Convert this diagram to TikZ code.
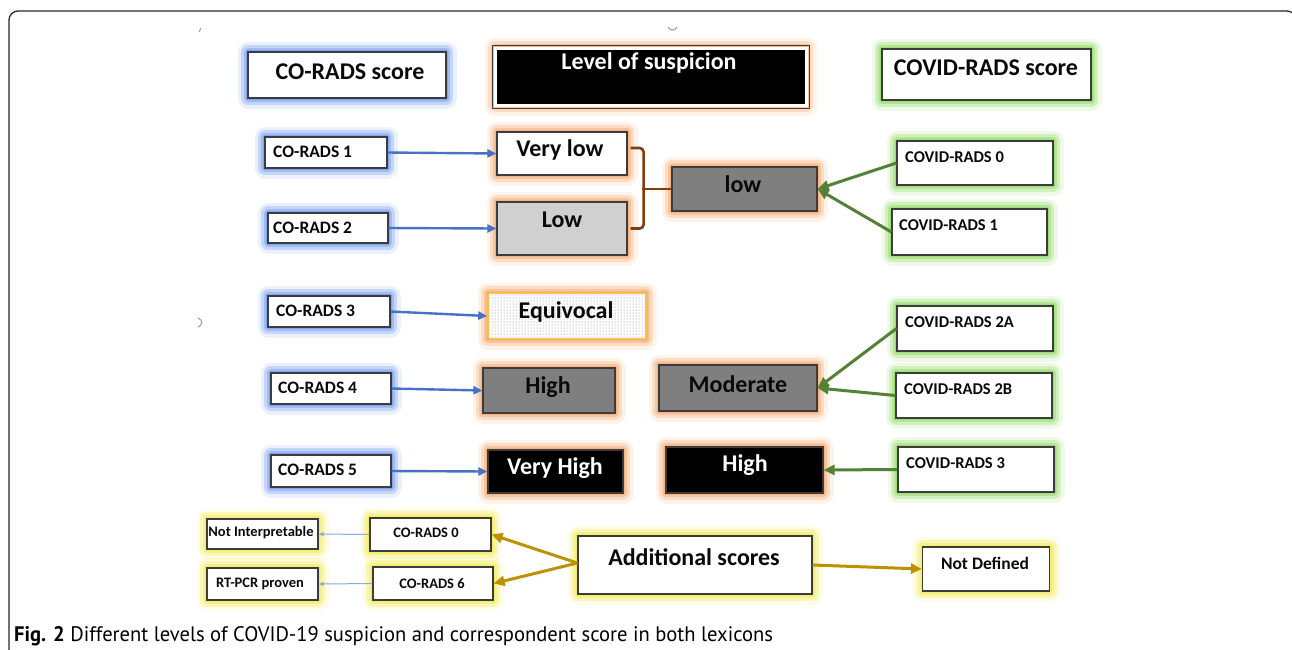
\documentclass[tikz,border=0pt]{standalone}
\usepackage{fontspec}
\setmainfont{Carlito}
\newfontfamily\capfont{PT Sans}
\usetikzlibrary{arrows.meta,patterns}
\definecolor{boxc}{HTML}{3C3C3C}
\definecolor{gBlue}{HTML}{7098EE}
\definecolor{gOrange}{HTML}{F6A86E}
\definecolor{gGreen}{HTML}{8FD862}
\definecolor{gYellow}{HTML}{F2EA50}
\definecolor{aBlue}{HTML}{4472C4}
\definecolor{aGreen}{HTML}{538135}
\definecolor{aGold}{HTML}{BF9000}
\definecolor{aBrown}{HTML}{843C0C}
\definecolor{aLight}{HTML}{8EAADB}
\definecolor{midgray}{HTML}{7F7F7F}
\definecolor{lgray}{HTML}{D0D0D0}
\definecolor{eqborder}{HTML}{F2C14E}
\definecolor{txtc}{HTML}{0A0A0A}
\tikzset{
  glow/.style={
    preaction={draw=#1,draw opacity=0.15,line width=21pt,line join=round},
    preaction={draw=#1,draw opacity=0.3,line width=14pt,line join=round},
    preaction={draw=#1,draw opacity=0.45,line width=8pt,line join=round},
    preaction={draw=#1,draw opacity=0.6,line width=4pt,line join=round}},
  bx/.style={draw=boxc,line width=1.2pt,fill=white,inner sep=0pt},
  sz/.style 2 args={minimum width=#1pt,minimum height=#2pt},
  big/.style={inner sep=0pt,text=txtc,font=\fontsize{24}{28}\selectfont\bfseries},
  med/.style={inner sep=0pt,text=txtc,font=\fontsize{17.5}{21}\selectfont\bfseries},
  medv/.style={inner sep=0pt,text=txtc,font=\fontsize{16.5}{20}\selectfont\bfseries},
  sml/.style={inner sep=0pt,text=txtc,font=\fontsize{14.5}{18}\selectfont\bfseries},
  blarr/.style={draw=aBlue,line width=2.4pt,-{Triangle[length=9pt,width=8pt]}},
  grarr/.style={draw=aGreen,line width=3pt,-{Triangle[length=11pt,width=10pt]}},
  goarr/.style={draw=aGold,line width=3pt,-{Triangle[length=11pt,width=10pt]}},
  ltarr/.style={draw=aLight,line width=1pt,-{Triangle[length=5pt,width=4pt]}},
  brk/.style={draw=aBrown,line width=2.6pt,rounded corners=4pt},
}
\begin{document}
\begin{tikzpicture}[x=1pt,y=-1pt]
\useasboundingbox (0,0) rectangle (1292,649);
\begin{scope}
\clip (0,0) rectangle (1292,649);
\draw[line width=1.3pt,draw=black!85,rounded corners=9pt] (9,700) -- (9,11) -- (1296,11) -- (1296,700);
\end{scope}
% stray marks
\draw[gray,line width=0.8pt] (200.5,28) -- (199.5,32);
\draw[gray!80,line width=1pt] (668,27) .. controls (670,31) and (675,31) .. (677,27);
\draw[gray!80,line width=1pt] (198,318) .. controls (203,320) and (203,325) .. (198,327);

% headers
\node[bx,glow=gBlue,sz={198}{46}] (hCO) at (347,75) {};
\node[big] (thCO) at (350,72) {CO-RADS score};
\node[inner sep=0pt,fill=black,draw=white,line width=3pt,glow=gOrange,sz={311}{57}] (hLS) at (650.5,76.5) {};
\draw[boxc,line width=1pt] ([shift={(-1.5pt,1.5pt)}]hLS.north west) rectangle ([shift={(1.5pt,-1.5pt)}]hLS.south east);
\node[big,text=white] (thLS) at (649,63) {Level of suspicion};
\node[bx,glow=gGreen,sz={209}{51}] (hCV) at (986.5,74.5) {};
\node[big] (thCV) at (986,68) {COVID-RADS score};

% row 1-2
\node[bx,glow=gBlue,sz={122}{31}] (c1) at (326,152.5) {};
\node[med,anchor=west] (tc1) at (273,152) {CO-RADS 1};
\node[bx,glow=gOrange,sz={130}{43}] (vlow) at (562,153.5) {};
\node[big] (tvlow) at (560,150) {Very low};
\node[bx,glow=gBlue,sz={120}{30}] (c2) at (328,228) {};
\node[med,anchor=west] (tc2) at (273,228) {CO-RADS 2};
\node[bx,glow=gOrange,fill=lgray,sz={130}{53}] (lowL) at (562,228.5) {};
\node[big] (tlowL) at (562,220) {Low};
\node[bx,glow=gOrange,fill=midgray,sz={145}{44}] (lowD) at (744.5,189) {};
\node[big] (tlowD) at (743,184) {low};
\node[bx,glow=gGreen,sz={156}{44}] (v0) at (975,163) {};
\node[medv,anchor=west] (tv0) at (905,157) {COVID-RADS 0};
\node[bx,glow=gGreen,sz={155}{46}] (v1) at (969.5,232) {};
\node[medv,anchor=west] (tv1) at (899,225) {COVID-RADS 1};

% row 3
\node[bx,glow=gBlue,sz={122}{31}] (c3) at (329,311.5) {};
\node[med,anchor=west] (tc3) at (276,311) {CO-RADS 3};
\node[bx,glow=gOrange,draw=eqborder,line width=1.6pt,sz={158}{46},preaction={fill=white},pattern=dots,pattern color=gray] (eq) at (567,316) {};
\node[big] (teq) at (566,312) {Equivocal};
\node[bx,glow=gGreen,sz={156}{45}] (v2a) at (975,328.5) {};
\node[medv,anchor=west] (tv2a) at (905,322) {COVID-RADS 2A};

% row 4
\node[bx,glow=gBlue,sz={120}{31}] (c4) at (331,388.5) {};
\node[med,anchor=west] (tc4) at (278,388) {CO-RADS 4};
\node[bx,glow=gOrange,fill=midgray,sz={132}{45}] (hiL) at (549,390.5) {};
\node[big] (thiL) at (548,387) {High};
\node[bx,glow=gOrange,fill=midgray,sz={158}{46}] (mod) at (738,388) {};
\node[big] (tmod) at (738,384) {Moderate};
\node[bx,glow=gGreen,sz={156}{45}] (v2b) at (974,395.5) {};
\node[medv,anchor=west] (tv2b) at (904,389) {COVID-RADS 2B};

% row 5
\node[bx,glow=gBlue,sz={120}{32}] (c5) at (331,471) {};
\node[med,anchor=west] (tc5) at (278,470) {CO-RADS 5};
\node[bx,glow=gOrange,fill=black,sz={135}{43}] (vhi) at (555.5,471.5) {};
\node[big,text=white] (tvhi) at (555,468) {Very High};
\node[bx,glow=gOrange,fill=black,sz={157}{46}] (hiR) at (744.5,470) {};
\node[big,text=white] (thiR) at (745,465) {High};
\node[bx,glow=gGreen,sz={156}{45}] (v3) at (976,469.5) {};
\node[medv,anchor=west] (tv3) at (906,463) {COVID-RADS 3};

% bottom
\node[bx,glow=gYellow,sz={111}{30}] (ni) at (262.5,534) {};
\node[sml] (tni) at (261,533) {Not Interpretable};
\node[bx,glow=gYellow,sz={121}{33}] (c0) at (430.5,534.5) {};
\node[sml] (tc0) at (426,533) {CO-RADS 0};
\node[bx,glow=gYellow,sz={111}{32}] (rt) at (262.5,584) {};
\node[sml] (trt) at (260,584) {RT-PCR proven};
\node[bx,glow=gYellow,sz={120}{33}] (c6) at (433,583.5) {};
\node[sml] (tc6) at (432,584) {CO-RADS 6};
\node[bx,glow=gYellow,sz={234}{58}] (add) at (695,565) {};
\node[big] (tadd) at (694,557) {Additional scores};
\node[bx,glow=gYellow,sz={127}{44}] (nd) at (986,569) {};
\node[med] (tnd) at (985,563) {Not Defined};

% connectors
\draw[blarr] (c1.east) -- (vlow.west);
\draw[blarr] (c2.east) -- (lowL.west);
\draw[blarr] (c3.east) -- (eq.west);
\draw[blarr] (c4.east) -- (hiL.west);
\draw[blarr] (c5.east) -- (vhi.west);
\draw[brk] ([xshift=3pt,yshift=5.5pt]vlow.east) -- ++(13pt,0pt) |- ([xshift=3pt]lowL.east);
\draw[brk] (lowD.west) -- ++(-29pt,0pt);
\draw[grarr] (v0.west) -- (lowD.east);
\draw[grarr] (v1.west) -- (lowD.east);
\draw[grarr] (v2a.west) -- (mod.east);
\draw[grarr] (v2b.west) -- (mod.east);
\draw[grarr] (v3.west) -- (hiR.east);
\draw[goarr] ([yshift=2pt]add.west) -- (c0.east);
\draw[goarr] ([yshift=2pt]add.west) -- (c6.east);
\draw[goarr] (add.east) -- (nd.west);
\draw[ltarr] (c0.west) -- (ni.east);
\draw[ltarr] (c6.west) -- (rt.east);

% caption
\node[anchor=base west,inner sep=0pt,font=\fontsize{21}{25}\selectfont\capfont] (cap) at (14,641) {\scalebox{0.98}[1]{\textbf{Fig. 2} Different levels of COVID-19 suspicion and correspondent score in both lexicons}};
\end{tikzpicture}
\end{document}
